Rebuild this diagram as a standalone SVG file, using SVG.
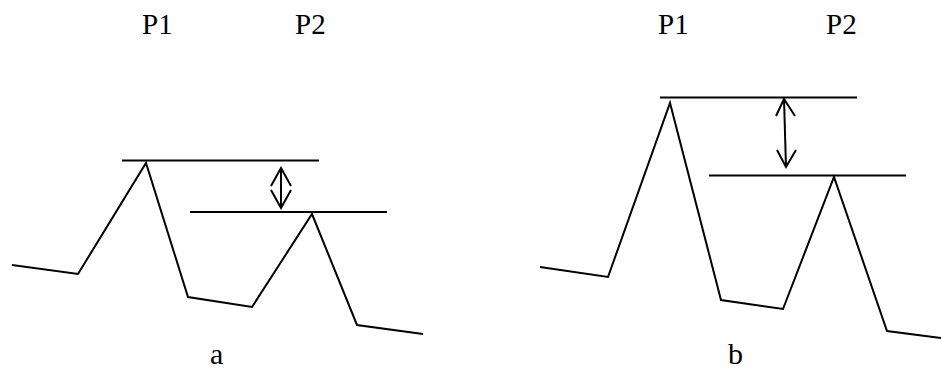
<svg xmlns="http://www.w3.org/2000/svg" width="941" height="371" viewBox="0 0 941 371">
<style>
.ln{fill:none;stroke:#000;stroke-width:2;stroke-linejoin:miter}
.ar{fill:none;stroke:#000;stroke-width:2}
.t{font-family:"Liberation Serif",serif;font-size:29px;fill:#000}
.s{font-family:"Liberation Serif",serif;font-size:30px;fill:#000}
</style>
<rect width="941" height="371" fill="#fff"/>
<g id="panel-a">
<text class="t" x="142" y="34">P1</text>
<text class="t" x="295" y="34">P2</text>
<polyline class="ln" points="12,265 78,274 146,163 188,297 252,307 312,214 357,325 423,334"/>
<line class="ln" x1="122" y1="160.5" x2="319" y2="160.5"/>
<line class="ln" x1="190" y1="212" x2="387" y2="212"/>
<text class="s" x="210" y="364">a</text>
</g>
<g id="panel-b">
<text class="t" x="658" y="34">P1</text>
<text class="t" x="826" y="34">P2</text>
<polyline class="ln" points="540,267 608,277 670,103 721,300 783,309 834,177 887,331 941,338"/>
<line class="ln" x1="660" y1="97.5" x2="857" y2="97.5"/>
<line class="ln" x1="709" y1="175.5" x2="906" y2="175.5"/>
<text class="s" x="728" y="364">b</text>
</g>
<g id="connectors">
<line class="ar" x1="281" y1="168" x2="281" y2="208"/>
<polyline class="ar" points="271,186 281,168 291,186"/>
<polyline class="ar" points="271,190 281,208 291,190"/>
<line class="ar" x1="784" y1="99" x2="786" y2="167"/>
<polyline class="ar" points="776,116 784,99 795,116"/>
<polyline class="ar" points="777,150 786,167 796,150"/>
</g>
</svg>
